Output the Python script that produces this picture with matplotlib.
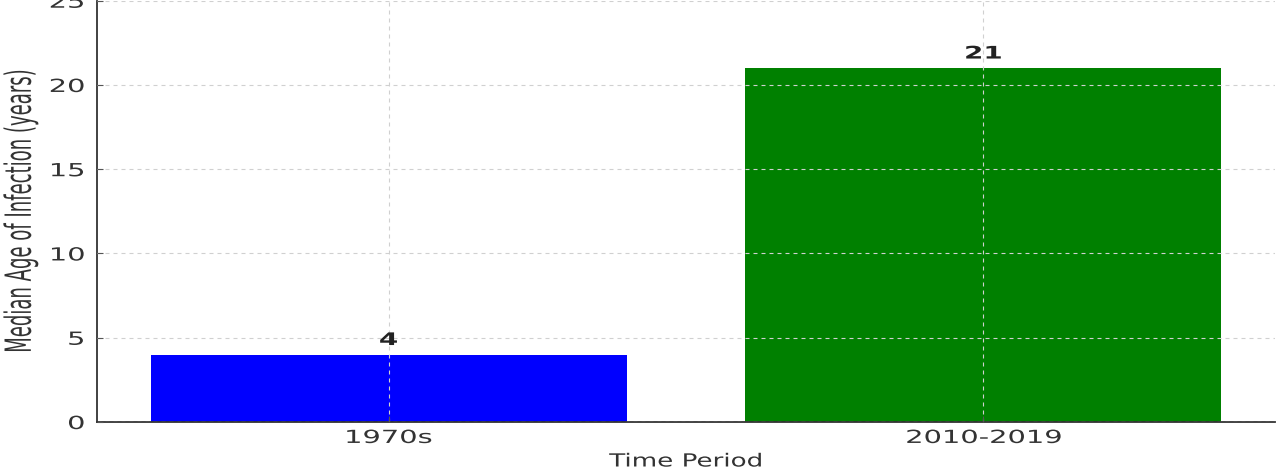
import matplotlib
matplotlib.use("Agg")
import matplotlib.pyplot as plt
from matplotlib import patheffects
from matplotlib.transforms import Affine2D

# ---- data ----
periods = ["1970s", "2010-2019"]
median_age = [4, 21]
bar_colors = ["#0000ff", "#008000"]
y_ticks = [0, 5, 10, 15, 20, 25]

# horizontal stretch effect (reference image is horizontally stretched)
class HStretch(patheffects.AbstractPathEffect):
    def __init__(self, sx, anchor="center"):
        super().__init__()
        self.sx = sx
        self.anchor = anchor

    def draw_path(self, renderer, gc, tpath, affine, rgbFace=None):
        ext = tpath.get_extents(affine)
        if self.anchor == "right":
            cx = ext.x1
        elif self.anchor == "left":
            cx = ext.x0
        else:
            cx = 0.5 * (ext.x0 + ext.x1)
        new = affine + Affine2D().translate(-cx, 0).scale(self.sx, 1).translate(cx, 0)
        renderer.draw_path(gc, tpath, new, rgbFace)

SX = 1.6
TXT = "#333333"

fig = plt.figure(figsize=(12.8, 4.7), dpi=100)
ax = fig.add_axes([97 / 1280, 48 / 470, 1178 / 1280, 421.3 / 470])

x = range(len(periods))
bars = ax.bar(x, median_age, width=0.8, color=bar_colors, zorder=1)

ax.set_ylim(0, 25)
ax.set_yticks(y_ticks)
ax.set_xticks(list(x))
ax.set_xticklabels(periods)

ax.grid(True, linestyle=(0, (3.6, 3.6)), color="#d0d0d0", linewidth=0.8, zorder=3)
ax.set_axisbelow(False)

for s in ["top", "right"]:
    ax.spines[s].set_visible(False)
for s in ["left", "bottom"]:
    ax.spines[s].set_color("#333333")
    ax.spines[s].set_linewidth(1.3)

ax.tick_params(axis="both", direction="in", length=4, color="#555555",
               labelsize=13, labelcolor=TXT)
ax.tick_params(axis="y", pad=9)
ax.tick_params(axis="x", pad=5)

for lbl in ax.get_yticklabels():
    lbl.set_path_effects([HStretch(SX, "right")])
for lbl in ax.get_xticklabels():
    lbl.set_path_effects([HStretch(SX)])

xl = ax.set_xlabel("Time Period", fontsize=13, color=TXT, labelpad=4)
xl.set_path_effects([HStretch(1.45)])
yl = ax.set_ylabel("Median Age of Infection (years)", fontsize=13, color=TXT)
yl.set_path_effects([HStretch(2.0)])
ax.yaxis.set_label_coords(-0.057, 0.5)

for b, v in zip(bars, median_age):
    t = ax.annotate(str(v), (b.get_x() + b.get_width() / 2, v),
                    xytext=(0, 4), textcoords="offset points",
                    ha="center", va="bottom", fontsize=12.5,
                    fontweight="bold", color="#222222")
    t.set_path_effects([HStretch(SX)])

fig.savefig("out.png", dpi=100)
